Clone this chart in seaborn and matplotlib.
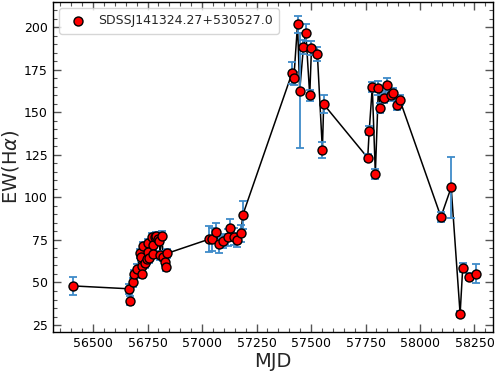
import numpy as np
import pandas as pd
import matplotlib
matplotlib.use("Agg")
import matplotlib.pyplot as plt
import seaborn as sns
from matplotlib.ticker import AutoMinorLocator

mjd = [56407, 56665, 56669, 56685, 56688, 56702, 56717, 56721, 56723, 56726,
       56730, 56738, 56746, 56750, 56752, 56758, 56769, 56773, 56776, 56784,
       56789, 56799, 56804, 56807, 56815, 56822, 56830, 56834, 56839,
       57033, 57045, 57062, 57077, 57097, 57120, 57128, 57147, 57161, 57178, 57187,
       57413, 57421, 57438, 57448, 57465, 57476, 57494, 57502, 57529, 57552, 57558,
       57760, 57767, 57781, 57795, 57809, 57818, 57833, 57850, 57865, 57876, 57894, 57908,
       58096, 58143, 58184, 58196, 58224, 58258]
ew = [48.0, 46.3, 39.3, 50.0, 54.8, 58.1, 67.1, 65.1, 59.6, 55.1,
      71.6, 61.2, 63.6, 73.0, 68.1, 64.2, 76.7, 71.8, 66.7, 76.7,
      77.3, 75.3, 74.3, 66.0, 77.5, 65.2, 62.2, 59.1, 67.1,
      75.5, 75.3, 79.8, 72.6, 74.5, 76.5, 81.8, 76.9, 75.0, 78.9, 89.8,
      173.2, 170.0, 201.8, 162.8, 188.3, 196.9, 160.0, 187.7, 184.3, 128.0, 154.8,
      123.3, 139.3, 165.0, 114.0, 164.2, 152.6, 158.7, 166.3, 160.0, 161.4, 154.4, 157.1,
      88.6, 105.9, 31.5, 58.7, 53.4, 55.2]
err = [5.4, 3.0, 2.5, 2.5, 2.5, 2.5, 2.5, 2.5, 3.0, 2.5,
       2.5, 2.5, 2.5, 2.5, 2.5, 2.5, 2.5, 2.5, 2.5, 2.5,
       2.5, 2.5, 2.5, 2.5, 2.5, 2.5, 2.5, 2.5, 2.5,
       7.8, 7.0, 5.0, 5.0, 4.0, 5.0, 5.5, 5.0, 4.0, 5.0, 8.2,
       6.5, 4.0, 4.9, 34.0, 4.0, 5.0, 3.0, 4.0, 4.0, 4.6, 5.4,
       2.0, 2.5, 3.0, 3.0, 4.0, 3.0, 3.0, 4.0, 3.0, 3.0, 3.0, 3.0,
       3.0, 18.0, 1.5, 2.5, 2.0, 5.4]
label = "SDSSJ141324.27+530527.0"

df = pd.DataFrame({"MJD": mjd, "EW": ew, "err": err})

sns.set_theme(style="white")
plt.rcParams['font.family'] = ['DejaVu Sans']

fig = plt.figure(figsize=(4.98, 3.72), dpi=100)
ax = fig.add_axes([0.106, 0.108, 0.884, 0.887])

sns.lineplot(data=df, x="MJD", y="EW", color="black", lw=1.1, ax=ax,
             sort=True, estimator=None, zorder=1)
ax.errorbar(df["MJD"], df["EW"], yerr=df["err"], fmt="none", ecolor="#3f8bc9",
            elinewidth=1.3, capsize=3, capthick=1.3, zorder=2)
sns.scatterplot(data=df, x="MJD", y="EW", color="red", edgecolor="black",
                linewidth=1.0, s=42, ax=ax, zorder=3, label=label)

ax.set_xlim(56315, 58335)
ax.set_ylim(21, 215)
ax.set_xticks([56500, 56750, 57000, 57250, 57500, 57750, 58000, 58250])
ax.set_yticks([25, 50, 75, 100, 125, 150, 175, 200])
ax.xaxis.set_minor_locator(AutoMinorLocator(5))
ax.yaxis.set_minor_locator(AutoMinorLocator(5))
ax.tick_params(which="both", direction="in", top=True, right=True,
               bottom=True, left=True, colors="#555555", labelcolor="black")
ax.tick_params(which="major", length=6, width=1, labelsize=9)
ax.tick_params(which="minor", length=3, width=0.8)
for sp in ax.spines.values():
    sp.set_color("black")
    sp.set_linewidth(1.0)

ax.set_xlabel("MJD", fontsize=14, labelpad=2)
ax.set_ylabel(r"EW(H$\alpha$)", fontsize=14, labelpad=2)

leg = ax.legend(loc="upper left", fontsize=9, frameon=True, handletextpad=0.6,
                borderpad=0.5)
leg.get_frame().set_edgecolor("#cccccc")

fig.savefig("out.png", dpi=100)
